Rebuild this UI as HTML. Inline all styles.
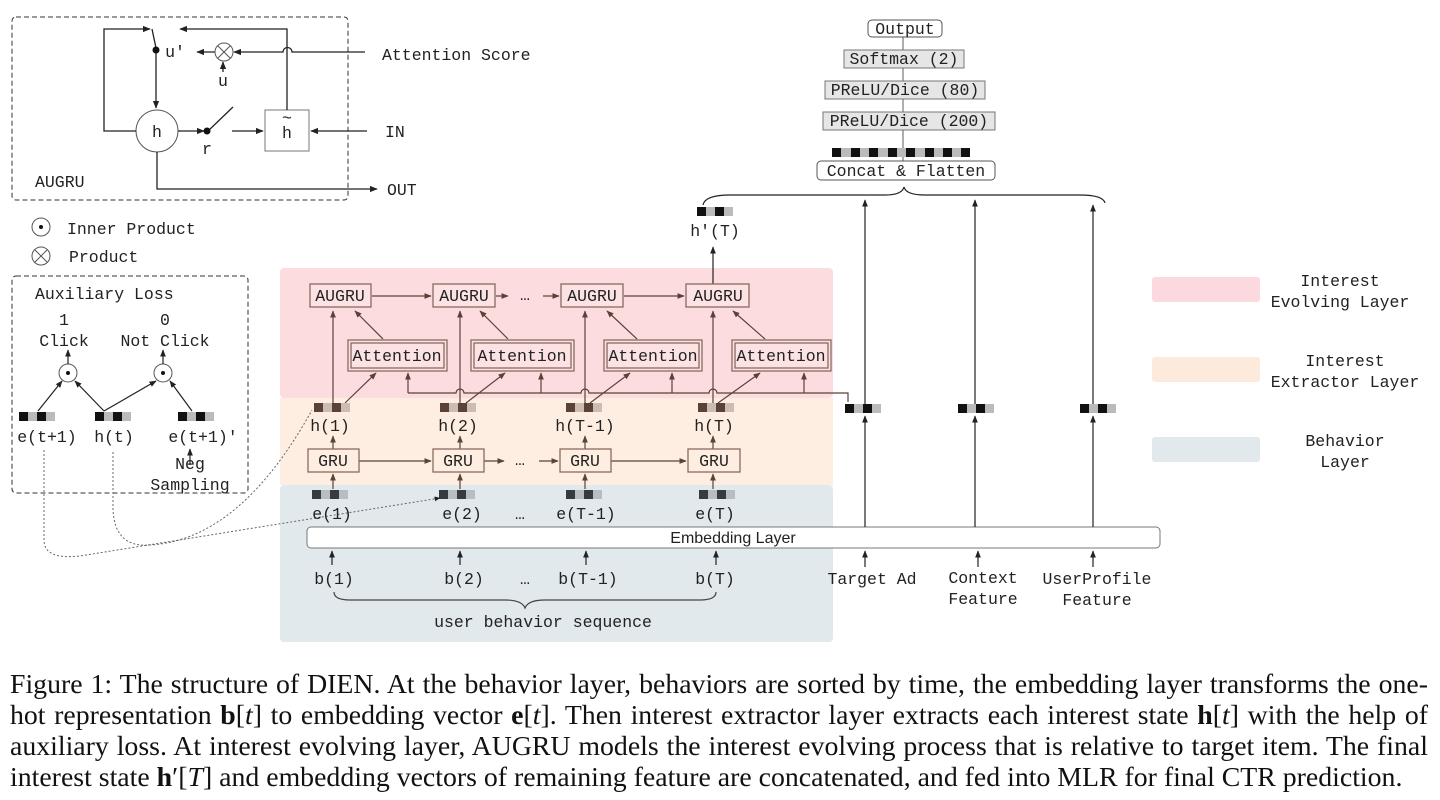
<!DOCTYPE html>
<html><head><meta charset="utf-8"><style>
body{margin:0;background:#fff;width:1440px;height:800px;overflow:hidden;position:relative}
svg{position:absolute;left:0;top:0}
text{font-family:"Liberation Mono","DejaVu Sans Mono",monospace;font-size:16.5px;fill:#222}
.cap{position:absolute;left:10px;width:1418px;font-family:"Liberation Serif",serif;font-size:27.8px;color:#111;line-height:31px;text-align:justify;text-align-last:justify;white-space:nowrap}
.cap div{height:31px}
</style></head><body>
<svg width="1440" height="660" viewBox="0 0 1440 660">
<defs>
<marker id="a" viewBox="0 0 10 10" refX="9" refY="5" markerWidth="6" markerHeight="6" orient="auto"><path d="M0,1 L10,5 L0,9z" fill="#222"/></marker>
<marker id="b" viewBox="0 0 10 10" refX="9" refY="5" markerWidth="6" markerHeight="6" orient="auto"><path d="M0,1 L10,5 L0,9z" fill="#5a4238"/></marker>
</defs>
<rect x="280" y="268" width="553" height="130" rx="4" fill="#fddce0"/>
<rect x="280" y="398" width="553" height="87" fill="#fdeee1"/>
<rect x="280" y="485" width="553" height="157" rx="4" fill="#e2e9ec"/>
<rect x="1152" y="277" width="108" height="25" rx="3" fill="#fcd9de"/>
<rect x="1152" y="357" width="108" height="25" rx="3" fill="#fcebdd"/>
<rect x="1152" y="437" width="108" height="25" rx="3" fill="#e2e9ec"/>
<text x="1340" y="286" text-anchor="middle">Interest</text><text x="1340" y="307" text-anchor="middle">Evolving Layer</text>
<text x="1345" y="366" text-anchor="middle">Interest</text><text x="1345" y="387" text-anchor="middle">Extractor Layer</text>
<text x="1345" y="446" text-anchor="middle">Behavior</text><text x="1345" y="467" text-anchor="middle">Layer</text>

<rect x="12" y="17" width="336" height="183" rx="4" fill="none" stroke="#333" stroke-dasharray="5,3"/>
<circle cx="157" cy="131" r="21" fill="#fff" stroke="#555"/><text x="157" y="137" text-anchor="middle" font-size="17">h</text>
<rect x="265" y="110" width="44" height="41" fill="#fff" stroke="#777"/><text x="287" y="138" text-anchor="middle" font-size="17">h</text><text x="287" y="123" text-anchor="middle" font-size="14">~</text>
<g stroke="#222" fill="none" stroke-width="1.3">
<path d="M136,131 H104 V29 H150" marker-end="url(#a)"/>
<path d="M152,29 L156,48"/>
<path d="M156,50 V108" marker-end="url(#a)"/>
<path d="M287,110 V29 H180" marker-end="url(#a)"/>
<path d="M365,52 H292 A4,4 0 0 0 283,52 H234" marker-end="url(#a)"/>
<path d="M215,52 H197" marker-end="url(#a)"/>
<path d="M223,72 V62" marker-end="url(#a)"/>
<path d="M178,131 H204" marker-end="url(#a)"/>
<path d="M208,131 L233,107"/>
<path d="M232,131 H263" marker-end="url(#a)"/>
<path d="M367,131 H311" marker-end="url(#a)"/>
<path d="M157,152 V189 H377" marker-end="url(#a)"/>
</g>
<circle cx="156" cy="50" r="3.5" fill="#111"/><circle cx="207" cy="131" r="3.5" fill="#111"/>
<circle cx="224" cy="52" r="9" fill="#fff" stroke="#555"/><path d="M218,46 L230,58 M230,46 L218,58" stroke="#555"/>
<text x="175" y="57" text-anchor="middle">u′</text><text x="223" y="86" text-anchor="middle">u</text><text x="207" y="154" text-anchor="middle">r</text>
<text x="382" y="60">Attention Score</text><text x="385" y="137">IN</text><text x="387" y="195">OUT</text><text x="35" y="187">AUGRU</text>
<circle cx="41" cy="227" r="9" fill="#fff" stroke="#555"/><circle cx="41" cy="227" r="2" fill="#111"/><text x="67" y="234">Inner Product</text>
<circle cx="41" cy="256" r="9" fill="#fff" stroke="#555"/><path d="M35,250 L47,262 M47,250 L35,262" stroke="#555"/><text x="69" y="262">Product</text>

<rect x="12" y="276" width="236" height="217" rx="4" fill="none" stroke="#333" stroke-dasharray="5,3"/>
<text x="35" y="299">Auxiliary Loss</text>
<text x="64" y="325" text-anchor="middle">1</text><text x="64" y="346" text-anchor="middle">Click</text>
<text x="165" y="325" text-anchor="middle">0</text><text x="165" y="346" text-anchor="middle">Not Click</text>
<circle cx="68" cy="373" r="9" fill="#fff" stroke="#555"/><circle cx="68" cy="373" r="2" fill="#111"/>
<circle cx="163" cy="373" r="9" fill="#fff" stroke="#555"/><circle cx="163" cy="373" r="2" fill="#111"/>
<g stroke="#222" stroke-width="1.2" fill="none">
<path d="M68,364 V350" marker-end="url(#a)"/><path d="M163,364 V350" marker-end="url(#a)"/>
<path d="M38,411 L62,381" marker-end="url(#a)"/><path d="M104,411 L75,381" marker-end="url(#a)"/>
<path d="M104,411 L156,381" marker-end="url(#a)"/><path d="M192,411 L170,381" marker-end="url(#a)"/>
<path d="M190,465 V449" marker-end="url(#a)"/>
</g>
<g id="v1"><rect x="19" y="412" width="9" height="9" fill="#111"/><rect x="28" y="412" width="9" height="9" fill="#bbb"/><rect x="37" y="412" width="9" height="9" fill="#111"/><rect x="46" y="412" width="9" height="9" fill="#bbb"/></g>
<use href="#v1" x="76"/><use href="#v1" x="159"/>
<text x="47" y="442" text-anchor="middle">e(t+1)</text><text x="114" y="442" text-anchor="middle">h(t)</text><text x="203" y="442" text-anchor="middle">e(t+1)′</text>
<text x="190" y="469" text-anchor="middle">Neg</text><text x="190" y="490" text-anchor="middle">Sampling</text>
<g stroke="#666" stroke-dasharray="2,2" fill="none" stroke-width="1">
<path d="M44,450 V540 Q44,560 80,556 L440,498" marker-end="url(#a)"/>
<path d="M113,452 V510 Q115,548 150,545 Q240,540 312,410"/>
</g>

<g stroke="#5a4238" fill="none" stroke-width="1.2">
<path d="M372,296 H431" marker-end="url(#b)"/><path d="M496,296 H508" marker-end="url(#b)"/><path d="M543,296 H559" marker-end="url(#b)"/><path d="M624,296 H684" marker-end="url(#b)"/>
<path d="M333,403 V311" marker-end="url(#b)"/><path d="M460,403 V311" marker-end="url(#b)"/><path d="M585,403 V311" marker-end="url(#b)"/><path d="M713,403 V311" marker-end="url(#b)"/>
<path d="M383,339 L355,311" marker-end="url(#b)"/><path d="M508,339 L480,311" marker-end="url(#b)"/><path d="M637,339 L607,311" marker-end="url(#b)"/><path d="M765,339 L733,311" marker-end="url(#b)"/>
<path d="M408,393 H456 A4,4 0 0 1 464,393 H581 A4,4 0 0 1 589,393 H709 A4,4 0 0 1 717,393 H848 V402"/>
<path d="M408,393 V373" marker-end="url(#b)"/><path d="M541,393 V373" marker-end="url(#b)"/><path d="M672,393 V373" marker-end="url(#b)"/><path d="M804,393 V373" marker-end="url(#b)"/>
<path d="M345,403 L376,373" marker-end="url(#b)"/><path d="M466,403 L505,373" marker-end="url(#b)"/><path d="M590,403 L630,373" marker-end="url(#b)"/><path d="M718,403 L760,373" marker-end="url(#b)"/>
<path d="M713,284 V247" stroke="#222" marker-end="url(#a)"/>
</g>
<g fill="#fde2e4" stroke="#8a6a60" stroke-width="1.3">
<rect x="310" y="284" width="61" height="23"/><rect x="433" y="284" width="62" height="23"/><rect x="561" y="284" width="62" height="23"/><rect x="686" y="284" width="63" height="23"/>
<rect x="348" y="340" width="99" height="31"/><rect x="471" y="340" width="103" height="31"/><rect x="604" y="340" width="98" height="31"/><rect x="732" y="340" width="99" height="31"/>
<rect x="351" y="343" width="93" height="25"/><rect x="474" y="343" width="97" height="25"/><rect x="607" y="343" width="92" height="25"/><rect x="735" y="343" width="93" height="25"/>
</g>
<text x="340" y="301" text-anchor="middle" fill="#3d2c26">AUGRU</text><text x="464" y="301" text-anchor="middle" fill="#3d2c26">AUGRU</text><text x="592" y="301" text-anchor="middle" fill="#3d2c26">AUGRU</text><text x="718" y="301" text-anchor="middle" fill="#3d2c26">AUGRU</text>
<text x="397" y="361" text-anchor="middle" fill="#3d2c26">Attention</text><text x="522" y="361" text-anchor="middle" fill="#3d2c26">Attention</text><text x="653" y="361" text-anchor="middle" fill="#3d2c26">Attention</text><text x="781" y="361" text-anchor="middle" fill="#3d2c26">Attention</text>
<text x="525" y="300" text-anchor="middle" fill="#3d2c26">…</text>
<g id="hv"><rect x="314" y="403" width="9" height="9" fill="#5a4238"/><rect x="323" y="403" width="9" height="9" fill="#cdbcb4"/><rect x="332" y="403" width="9" height="9" fill="#5a4238"/><rect x="341" y="403" width="9" height="9" fill="#cdbcb4"/></g>
<use href="#hv" x="126"/><use href="#hv" x="252"/><use href="#hv" x="384"/>
<text x="330" y="431" text-anchor="middle" fill="#3d2c26">h(1)</text><text x="458" y="431" text-anchor="middle" fill="#3d2c26">h(2)</text><text x="585" y="431" text-anchor="middle" fill="#3d2c26">h(T-1)</text><text x="714" y="431" text-anchor="middle" fill="#3d2c26">h(T)</text>
<g stroke="#5a4238" fill="none" stroke-width="1.2">
<path d="M333,449 V436" marker-end="url(#b)"/><path d="M460,449 V436" marker-end="url(#b)"/><path d="M585,449 V436" marker-end="url(#b)"/><path d="M713,449 V436" marker-end="url(#b)"/>
<path d="M359,461 H431" marker-end="url(#b)"/><path d="M484,461 H504" marker-end="url(#b)"/><path d="M539,461 H558" marker-end="url(#b)"/><path d="M611,461 H686" marker-end="url(#b)"/>
<path d="M333,489 V474" marker-end="url(#b)"/><path d="M460,489 V474" marker-end="url(#b)"/><path d="M585,489 V474" marker-end="url(#b)"/><path d="M713,489 V474" marker-end="url(#b)"/>
</g>
<g fill="#fdeee1" stroke="#8a6a60" stroke-width="1.3"><rect x="308" y="449" width="51" height="23"/><rect x="433" y="449" width="51" height="23"/><rect x="560" y="449" width="51" height="23"/><rect x="688" y="449" width="52" height="23"/></g>
<text x="333" y="466" text-anchor="middle" fill="#3d2c26">GRU</text><text x="458" y="466" text-anchor="middle" fill="#3d2c26">GRU</text><text x="585" y="466" text-anchor="middle" fill="#3d2c26">GRU</text><text x="714" y="466" text-anchor="middle" fill="#3d2c26">GRU</text>
<text x="520" y="465" text-anchor="middle" fill="#3d2c26">…</text>
<g id="ev"><rect x="312" y="490" width="9" height="9" fill="#353b40"/><rect x="321" y="490" width="9" height="9" fill="#b7bec3"/><rect x="330" y="490" width="9" height="9" fill="#353b40"/><rect x="339" y="490" width="9" height="9" fill="#b7bec3"/></g>
<use href="#ev" x="127"/><use href="#ev" x="254"/><use href="#ev" x="387"/>
<text x="332" y="519" text-anchor="middle" fill="#333">e(1)</text><text x="462" y="519" text-anchor="middle" fill="#333">e(2)</text><text x="586" y="519" text-anchor="middle" fill="#333">e(T-1)</text><text x="715" y="519" text-anchor="middle" fill="#333">e(T)</text><text x="520" y="519" text-anchor="middle" fill="#333">…</text>
<rect x="307" y="527" width="853" height="21" rx="4" fill="#fff" stroke="#777"/>
<text x="733" y="543" text-anchor="middle" style="font-family:'Liberation Sans',sans-serif;font-size:16px">Embedding Layer</text>
<g stroke="#222" fill="none" stroke-width="1.2">
<path d="M332,565 V551" marker-end="url(#a)"/><path d="M460,565 V551" marker-end="url(#a)"/><path d="M586,565 V551" marker-end="url(#a)"/><path d="M716,565 V551" marker-end="url(#a)"/>
<path d="M865,567 V551" marker-end="url(#a)"/><path d="M978,567 V551" marker-end="url(#a)"/><path d="M1093,567 V551" marker-end="url(#a)"/>
<path d="M865,527 V416" marker-end="url(#a)"/><path d="M975,527 V416" marker-end="url(#a)"/><path d="M1093,527 V416" marker-end="url(#a)"/>
<path d="M865,404 V200" marker-end="url(#a)"/><path d="M975,404 V200" marker-end="url(#a)"/><path d="M1093,404 V205" marker-end="url(#a)"/>
<path d="M334,592 Q334,600 350,600 H505 Q522,600 525,608 Q528,600 545,600 H700 Q716,600 716,592" stroke="#444"/>
<path d="M703,205 Q705,195 730,195 H885 Q902,195 904,187 Q906,195 925,195 H1080 Q1103,195 1105,203"/>
<path d="M903,37 V161" stroke="#777"/>
</g>
<text x="334" y="584" text-anchor="middle">b(1)</text><text x="464" y="584" text-anchor="middle">b(2)</text><text x="588" y="584" text-anchor="middle">b(T-1)</text><text x="715" y="584" text-anchor="middle">b(T)</text><text x="525" y="584" text-anchor="middle">…</text>
<text x="543" y="627" text-anchor="middle" fill="#444">user behavior sequence</text>
<text x="872" y="584" text-anchor="middle">Target Ad</text>
<text x="983" y="583" text-anchor="middle">Context</text><text x="983" y="604" text-anchor="middle">Feature</text>
<text x="1097" y="584" text-anchor="middle">UserProfile</text><text x="1097" y="605" text-anchor="middle">Feature</text>
<g id="kv"><rect x="845" y="404" width="9" height="9" fill="#111"/><rect x="854" y="404" width="9" height="9" fill="#bbb"/><rect x="863" y="404" width="9" height="9" fill="#111"/><rect x="872" y="404" width="9" height="9" fill="#bbb"/></g>
<use href="#kv" x="113"/><use href="#kv" x="235"/><use href="#kv" x="-148" y="-197"/>
<text x="715" y="236" text-anchor="middle">h′(T)</text>
<rect x="868" y="20" width="74" height="17" rx="4" fill="#fff" stroke="#555"/><text x="905" y="34" text-anchor="middle">Output</text>
<rect x="844" y="50" width="120" height="18" fill="#e6e6e6" stroke="#777"/><text x="904" y="64" text-anchor="middle">Softmax (2)</text>
<rect x="825" y="81" width="160" height="18" fill="#e6e6e6" stroke="#777"/><text x="905" y="95" text-anchor="middle">PReLU/Dice (80)</text>
<rect x="823" y="112" width="172" height="18" fill="#e6e6e6" stroke="#777"/><text x="909" y="126" text-anchor="middle">PReLU/Dice (200)</text>
<g fill="#111"><rect x="832" y="148" width="9" height="9"/><rect x="851" y="148" width="9" height="9"/><rect x="869" y="148" width="9" height="9"/><rect x="888" y="148" width="9" height="9"/><rect x="906" y="148" width="9" height="9"/><rect x="925" y="148" width="9" height="9"/><rect x="943" y="148" width="9" height="9"/><rect x="961" y="148" width="9" height="9"/></g>
<g fill="#bbb"><rect x="841" y="148" width="10" height="9"/><rect x="860" y="148" width="9" height="9"/><rect x="878" y="148" width="10" height="9"/><rect x="897" y="148" width="9" height="9"/><rect x="915" y="148" width="10" height="9"/><rect x="934" y="148" width="9" height="9"/><rect x="952" y="148" width="9" height="9"/></g>
<rect x="817" y="161" width="178" height="19" rx="4" fill="#fff" stroke="#555"/><text x="906" y="176" text-anchor="middle">Concat &amp; Flatten</text>
</svg>
<div class="cap" style="top:669px">
<div>Figure 1: The structure of DIEN. At the behavior layer, behaviors are sorted by time, the embedding layer transforms the one-</div>
<div>hot representation <b>b</b>[<i>t</i>] to embedding vector <b>e</b>[<i>t</i>]. Then interest extractor layer extracts each interest state <b>h</b>[<i>t</i>] with the help of</div>
<div>auxiliary loss. At interest evolving layer, AUGRU models the interest evolving process that is relative to target item. The final</div>
<div style="text-align-last:left">interest state <b>h</b>′[<i>T</i>] and embedding vectors of remaining feature are concatenated, and fed into MLR for final CTR prediction.</div>
</div>
</body></html>
